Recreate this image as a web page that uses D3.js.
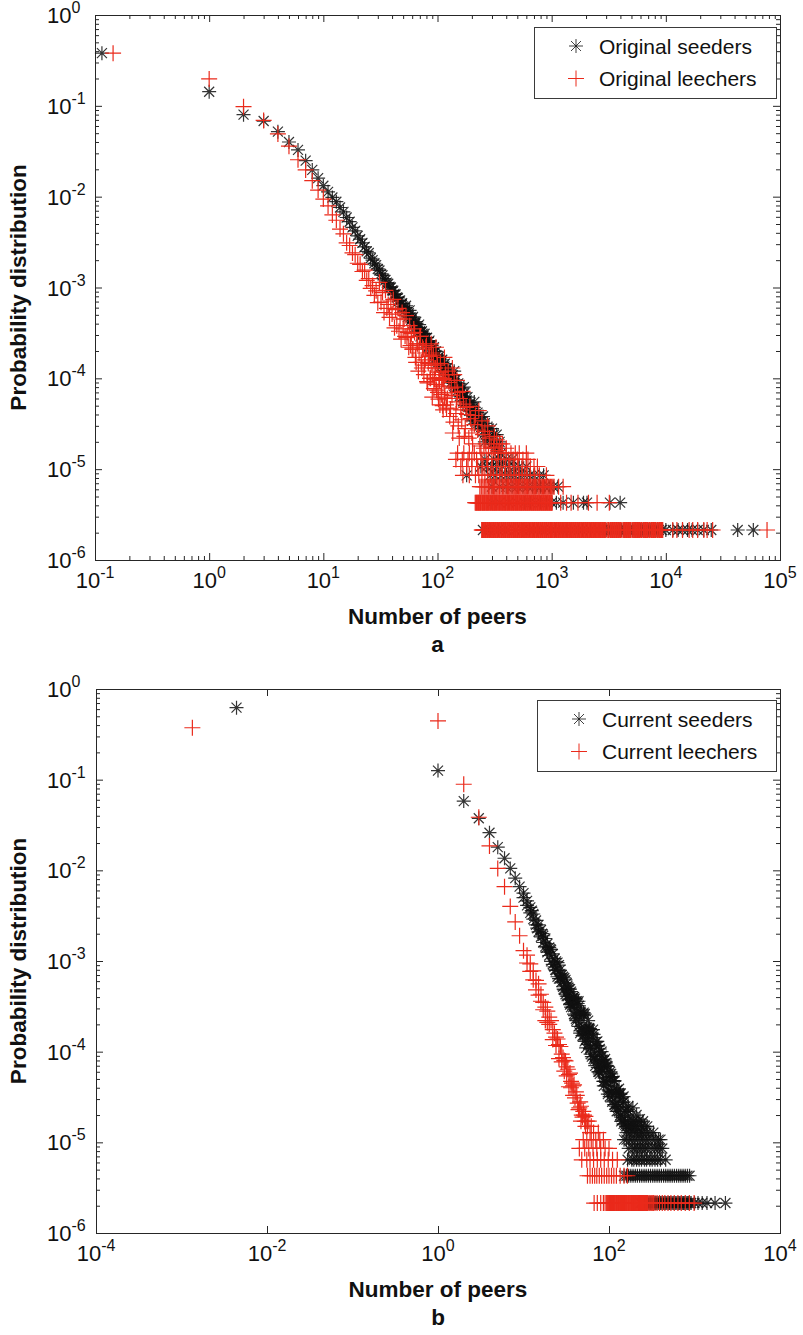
<!DOCTYPE html>
<html>
<head>
<meta charset="utf-8">
<script src="https://cdn.jsdelivr.net/npm/d3@7"></script>
<style>
  body { margin: 0; background: #fff; }
  text { font-family: "Liberation Sans", Arial, Helvetica, sans-serif; fill: #111; }
</style>
</head>
<body>
<svg id="chart" width="803" height="1335"></svg>
<script>
// ---------------------------------------------------------------
// Peer-count distributions, log-log.  Each point is [peers, probability].
// ---------------------------------------------------------------

// Probability of a value seen once, twice, ... (one torrent out of ~467k)
const floorP = [2.14e-6, 4.28e-6, 6.42e-6, 8.56e-6, 1.07e-5, 1.28e-5, 1.5e-5, 1.71e-5];

// tick exponents
const yTickExp = [0, -1, -2, -3, -4, -5, -6];
const xTickExpA = [-1, 0, 1, 2, 3, 4, 5];
const xTickExpB = [-4, -2, 0, 2, 4];

// ---- panel a : original seeders ----
const origSeeders = [
  [0.115,0.38],[1,0.143],[2,0.080],[3,0.068],[4,0.052],[5,0.040],[6,0.0327],[7,0.0249],[8,0.0197],[9,0.0160],
  [10,0.0132],[11,0.0113],[12,0.0098],[13,0.0088],[14,0.0076],[15,0.0068],[16,0.0059],[17,0.0053],[18,0.0046],[19,0.0042],
  [20,0.0037],[21,0.0034],[22,0.0031],[23,0.0028],[24,0.0025],[25,0.0024],[26,0.0021],[27,0.0020],[28,0.00185],[29,0.00176],
  [30,0.00160],[31,0.00154],[32,0.00141],[33,0.00136],[34,0.00125],[35,0.00121],[36,0.00113],[37,0.00110],[38,0.00102],[39,0.00100],
  [40,0.00093],[41,0.00092],[42,0.00085],[43,0.00084],[44,0.00078],[45,0.00077],[46,0.00071],[47,0.00072],[48,0.00066],[49,0.00067],[50,0.00062],
  [52,6.0e-4],[54,5.4e-4],[56,5.2e-4],[58,4.7e-4],[60,4.6e-4],[62,4.1e-4],[64,4.0e-4],[66,3.6e-4],[68,3.6e-4],[70,3.3e-4],
  [72,3.2e-4],[74,3.1e-4],[76,2.8e-4],[78,2.8e-4],[80,2.5e-4],[82,2.5e-4],[84,2.3e-4],[86,2.3e-4],[88,2.1e-4],[90,2.1e-4],
  [92,1.9e-4],[94,1.95e-4],[96,1.8e-4],[98,1.8e-4],[100,1.65e-4],
  [51,5.5e-4],[53,6.3e-4],[55,4.75e-4],[57,5.6e-4],[59,4.4e-4],[61,4.75e-4],[63,3.6e-4],[65,4.2e-4],[67,3.3e-4],[69,3.9e-4],
  [71,2.9e-4],[73,3.3e-4],[75,2.7e-4],[77,3.1e-4],[79,2.35e-4],[81,2.8e-4],[83,2.2e-4],[85,2.6e-4],[87,1.93e-4],[89,2.3e-4],
  [91,1.88e-4],[93,2.2e-4],[95,1.65e-4],[97,1.98e-4],[99,1.57e-4],
  [103,1.6e-4],[106,1.45e-4],[109,1.5e-4],[112,1.3e-4],[115,1.35e-4],[118,1.2e-4],[121,1.15e-4],[124,1.1e-4],[127,1.05e-4],[130,1.0e-4],
  [134,9.9e-5],[138,8.8e-5],[142,8.9e-5],[146,7.9e-5],[150,8.0e-5],[155,7.0e-5],[160,7.1e-5],[165,6.2e-5],[170,6.3e-5],[175,5.5e-5],[180,5.7e-5],
  [186,4.9e-5],[192,5.1e-5],[198,4.3e-5],[205,4.5e-5],[212,3.8e-5],[220,3.9e-5],[228,3.2e-5],[236,3.4e-5],[245,2.8e-5],[255,3.0e-5],
  [265,2.4e-5],[275,2.6e-5],[290,2.1e-5],[305,2.1e-5],[320,1.7e-5],[340,1.7e-5],[360,1.5e-5],
  [101,1.5e-4],[104,1.75e-4],[107,1.35e-4],[110,1.6e-4],[113,1.22e-4],[116,1.45e-4],[119,1.1e-4],[122,1.3e-4],[125,9.8e-5],[128,1.2e-4],
  [132,9.0e-5],[136,1.08e-4],[140,8.2e-5],[144,9.6e-5],[148,7.2e-5],[152,8.8e-5],[157,6.4e-5],[162,7.8e-5],[167,5.6e-5],[172,6.9e-5],
  [178,5.0e-5],[183,6.2e-5],[189,4.4e-5],[195,5.4e-5],[202,3.9e-5],[208,4.8e-5],[216,3.4e-5],[224,4.2e-5],[232,3.0e-5],[240,3.7e-5],
  [250,2.6e-5],[260,3.2e-5],[270,2.3e-5],[282,2.8e-5],[297,1.9e-5],[312,2.4e-5],[330,1.8e-5],[350,2.0e-5],
  [140,1.2e-4],[170,8.0e-5],[200,3.4e-5],[210,5.5e-5],[250,3.8e-5],[260,2.0e-5],[300,2.8e-5],[330,2.4e-5]
];
// peers values observed 1, 2, 3 ... times
const origSeedersFloor = [
  [250,276,290,310,340,380,410,480,560,640,700,760,830,900,1000,1080,1150,1250,1360,1450,1550,1700,1850,2050,2200,2400,2600,2800,
   3000,3250,3400,3550,3700,3900,4100,4300,4500,4700,4900,5100,5400,5700,6000,6300,6600,7000,7400,7800,8200,8700,9200,10000,
   11500,12800,14000,15500,17000,19000,21500,25000,42600,58400],
  [300,350,420,500,580,650,720,800,900,1000,1100,1260,1550,1900,2040,3240,3980],
  [300,350,400,450,500,560,620,680,740,800,870,950,1030,1135],
  [180,290,320,360,400,440,480,530,580,640,700,780,850],
  [240,270,300,330,370,420,470,520,600],
  [260,310,350,400,450]
];

// ---- panel a : original leechers ----
const origLeechers = [
  [0.144,0.38],[1,0.198],[2,0.098],[3,0.069],[4,0.049],[5,0.036],[6,0.0255],[7,0.0197],[8,0.0150],[9,0.0118],
  [10,0.0094],[11,0.0079],[12,0.0063],[13,0.0055],[14,0.0044],[15,0.0039],[16,0.0031],[17,0.0029],[18,0.0024],[19,0.0023],
  [20,0.00185],[21,0.0018],[22,0.0015],[23,0.00155],[24,0.0012],[25,0.00125],[26,0.00098],[27,0.00105],[28,0.00082],[29,0.00092],[30,0.00068],
  [31,1.14e-3],[32,6.9e-4],[33,8.8e-4],[34,5.3e-4],[35,9.3e-4],[36,5.9e-4],[37,6.5e-4],[38,4.7e-4],[39,7.1e-4],[40,5.1e-4],
  [41,7.4e-4],[42,3.6e-4],[43,5.7e-4],[44,3.8e-4],[45,5.9e-4],[46,3.3e-4],[47,4.5e-4],[48,2.7e-4],[49,5.3e-4],[50,3.5e-4],
  [51,4.5e-4],[52,2.9e-4],[53,4.9e-4],[54,2.8e-4],[55,3.2e-4],[56,2.2e-4],[57,3.8e-4],[58,2.3e-4],[59,3.1e-4],[60,2.1e-4],
  [62,3.5e-4],[64,1.7e-4],[66,2.4e-4],[68,1.2e-4],[70,2.9e-4],[72,1.5e-4],[74,2.2e-4],[76,1.1e-4],[78,1.6e-4],[80,2.3e-4],
  [82,8.9e-5],[84,1.8e-4],[86,1.0e-4],[88,1.4e-4],[90,6.2e-5],[92,1.8e-4],[94,9.8e-5],[96,1.3e-4],[98,7.4e-5],[100,1.4e-4],
  [102,5.9e-5],[104,9.5e-5],[106,1.45e-4],[108,6.6e-5],[110,9.8e-5],[112,4.5e-5],[114,1.0e-4],[116,6.9e-5],[118,1.1e-4],[120,4.7e-5],
  [61,2.1e-4],[63,3.2e-4],[65,1.5e-4],[67,2.4e-4],[69,1.9e-4],[71,2.9e-4],[73,1.3e-4],[75,2.1e-4],[77,1.4e-4],[79,2.2e-4],
  [81,9.2e-5],[83,1.46e-4],[85,1.74e-4],[87,1.0e-4],[89,1.9e-4],[91,1.1e-4],[93,7.7e-5],[95,1.3e-4],[97,8.6e-5],[99,1.46e-4],
  [101,7.0e-5],[103,1.02e-4],[105,5.1e-5],[107,1.17e-4],[109,8.2e-5],[111,5.0e-5],[113,9.7e-5],[115,6.2e-5],[117,1.1e-4],[119,5.1e-5],
  [124,1.2e-4],[128,3.8e-5],[132,7.8e-5],[136,2.5e-5],[140,1.1e-4],[145,4.1e-5],[150,7.0e-5],[155,2.2e-5],[160,4.5e-5],[166,7.2e-5],
  [172,2.3e-5],[178,4.8e-5],[192,4.9e-5],[200,2.5e-5],[210,3.1e-5],[230,4.4e-5],[255,1.7e-5],[285,2.2e-5],
  [122,6.0e-5],[126,9.0e-5],[130,4.6e-5],[134,6.5e-5],[138,3.3e-5],[142,8.0e-5],[147,5.5e-5],[152,3.0e-5],[157,6.0e-5],[163,3.5e-5],
  [169,5.2e-5],[175,2.8e-5],[181,4.0e-5],[188,2.2e-5],[195,3.6e-5],[203,1.9e-5],[215,3.9e-5],[225,2.7e-5],[235,1.8e-5],[250,2.4e-5],
  [265,1.9e-5],[275,3.0e-5],[295,1.75e-5],[315,2.3e-5],[340,1.6e-5],[370,1.9e-5],[400,1.7e-5],
  [148,9.5e-5],[97,2.2e-4],[245,3.4e-5],[260,2.6e-5],[310,1.7e-5],[330,2.1e-5],[350,1.9e-5],[135,1.3e-4],[115,1.7e-4],[88,2.4e-4]
];
const origLeechersFloor = [
  [244,250,257,264,271,278,286,294,302,310,318,327,336,345,354,364,374,384,394,405,416,427,439,451,463,475,488,501,515,529,
   543,558,573,588,604,621,637,655,672,690,709,728,748,768,789,810,832,855,878,901,926,951,976,998,1030,1058,1086,1115,1145,1176,
   1208,1241,1274,1309,1344,1380,1417,1456,1495,1535,1577,1619,1663,1708,1754,1801,1850,1900,1951,2004,2058,2113,2170,2229,2289,
   2351,2414,2479,2546,2615,2685,2758,2832,2909,2987,3068,3151,3236,3323,3413,3505,3599,3697,3796,3899,4004,4112,4223,4337,4454,
   4574,4698,4824,4955,5088,5226,5367,5512,5661,5813,5970,6131,6297,6467,6641,6820,7004,7194,7388,7587,7792,8002,8219,8441,8668,
   8903,9143,9390,11500,12500,14000,16000,17200,19000,21500,23000,25700,77000,
   247,253,260,267,274,282,290,298,306,314,322,331,340,349,359,369,379,389,399,410,421,433,445,457,469,481,494,508,522,536,
   550,565,580,596,612,629,646,663,681,699,718,738,758,778,799,821,843,866,889,913,938,963,987,1014,1044,1072,1100,1130,1160,1192,
   1224,1257,1291,1326,1362,1398,1436,1475,1515,1556,1598,1641,1685,1731,1777,1825,1875,1925,1977,2031,2085,2141,2199,2259,2320,
   2382,2446,2512,2580,2650,2721,2795,2870,2948,3279,3368,3459,3552,3648,3746,3847,3951,4280,4395,4514,4636,4761,4889,
   5296,5439,5586,5737,5891,6382,6554,6730,6912,7487,7689,7897,8110,8785,9023,9266],
  [214,220,226,232,238,245,251,258,265,272,279,287,295,303,311,319,328,337,346,355,365,375,385,395,406,417,428,440,452,464,
   477,490,503,517,531,545,560,575,591,607,623,640,658,676,694,713,732,752,772,793,815,837,860,883,907,932,957,983,1010,
   1200,1350,1480,1700,2100,2500,3200,
   217,223,229,235,241,248,254,261,268,275,283,291,299,307,315,323,332,341,350,360,370,380,390,400,411,422,434,446,458,470,
   483,496,510,524,538,552,567,583,599,615,631,649,667,685,703,722,742,762,782,804,826,848,871,895,919,944,970,996],
  [235,250,265,280,295,310,325,340,360,380,400,420,440,460,480,500,525,550,575,600,630,660,690,720,760,790,830,870,910,950,
   1000,1050,1150,1260,
   242,257,272,287,302,317,332,350,370,390,410,430,450,470,490,512,537,562,587,615,645,675,705,740,775,810,850,890,930,975,1025],
  [167,190,215,245,275,310,350,390,440,490,550,610,710,230,260,290,330,370,415,465,520,580,650,780,900],
  [160,200,250,300,360,430,510,600,700,180,225,275,330,395,470,550,650,750],
  [145,185,220,270,340,420,500,560,165,200,245,300,380,460,620],
  [150,190,240,320,400,480,170,210,280,360,440,520,600]
];

// ---- panel b : current seeders ----
const currSeeders = [
  [0.0044,0.622],[1,0.126],[2,0.058],[3,0.0375],[4,0.026],[5,0.018],[6,0.0136],[7,0.0105],[8,0.0082],[9,6.6e-3],
  [10,5.6e-3],[11,4.1e-3],[12,3.9e-3],[13,2.9e-3],[14,2.8e-3],[15,2.1e-3],[16,2.2e-3],[17,1.6e-3],[18,1.77e-3],[19,1.25e-3],[20,1.41e-3],
  [10,5.0e-3],[11,4.6e-3],[12,3.4e-3],[13,3.3e-3],[14,2.5e-3],[15,2.5e-3],[16,1.85e-3],[17,1.9e-3],[18,1.45e-3],[19,1.55e-3],[20,1.15e-3],
  [21,1.33e-3],[22,9.2e-4],[23,1.06e-3],[24,7.9e-4],[25,9.6e-4],[26,6.4e-4],[27,7.2e-4],[28,5.9e-4],[29,6.7e-4],[30,4.8e-4],
  [31,6.2e-4],[32,4.1e-4],[33,5.0e-4],[34,3.8e-4],[35,4.9e-4],[36,3.1e-4],[37,3.9e-4],[38,3.1e-4],[39,4.0e-4],[40,2.5e-4],
  [21,9.9e-4],[22,1.2e-3],[23,8.6e-4],[24,9.9e-4],[25,6.7e-4],[26,9.0e-4],[27,6.4e-4],[28,7.0e-4],[29,5.2e-4],[30,6.5e-4],
  [31,4.3e-4],[32,5.7e-4],[33,4.1e-4],[34,4.9e-4],[35,3.3e-4],[36,4.6e-4],[37,3.3e-4],[38,3.8e-4],[39,2.6e-4],[40,3.85e-4],
  [42,3.6e-4],[44,1.9e-4],[46,2.7e-4],[48,1.8e-4],[50,2.6e-4],[52,1.3e-4],[54,1.76e-4],[56,1.4e-4],[58,1.8e-4],[60,1.08e-4],
  [63,1.6e-4],[66,8.3e-5],[69,1.17e-4],[72,7.9e-5],[75,1.16e-4],[78,5.7e-5],[81,7.7e-5],[84,6.1e-5],[87,7.9e-5],[90,4.7e-5],
  [94,7.0e-5],[98,3.8e-5],[102,5.3e-5],[106,3.6e-5],[110,5.3e-5],[115,2.6e-5],[120,3.5e-5],[125,2.7e-5],[130,3.5e-5],[136,2.0e-5],
  [142,3.1e-5],[148,1.6e-5],[155,2.2e-5],[162,1.5e-5],[170,2.2e-5],[180,1.43e-5],
  [41,2.3e-4],[43,3.4e-4],[45,2.1e-4],[47,2.7e-4],[49,1.5e-4],[51,2.5e-4],[53,1.56e-4],[55,1.85e-4],[57,1.2e-4],[59,1.8e-4],
  [61,9.4e-5],[65,1.43e-4],[68,8.8e-5],[71,1.28e-4],[74,6.7e-5],[77,9.7e-5],[80,6.6e-5],[83,9.0e-5],[86,4.7e-5],[89,7.3e-5],
  [92,4.6e-5],[96,6.9e-5],[100,3.7e-5],[104,5.2e-5],[108,3.6e-5],[112,4.8e-5],[118,2.6e-5],[123,3.7e-5],[128,2.4e-5],[133,3.4e-5],
  [139,1.9e-5],[145,2.75e-5],[152,1.8e-5],
  [42,2.8e-4],[44,3.6e-4],[46,1.6e-4],[48,2.6e-4],[50,1.67e-4],[52,2.6e-4],[54,1.1e-4],[56,1.7e-4],[58,1.38e-4],[60,1.75e-4],
  [63,8.8e-5],[66,1.55e-4],[69,8.2e-5],[72,1.16e-4],[75,6.0e-5],[78,1.07e-4],[81,6.6e-5],[84,8.2e-5],[87,4.7e-5],[90,8.3e-5],
  [94,4.6e-5],[98,6.3e-5],[102,3.2e-5],[106,5.7e-5],[110,3.2e-5],[115,4.7e-5],[120,2.5e-5],[125,3.8e-5],[130,2.2e-5],[136,3.4e-5],
  [142,1.76e-5],[148,2.8e-5],[155,1.56e-5],[162,2.3e-5],[170,1.44e-5],
  [12.5,3.6e-3],[14.5,2.3e-3],[16.5,2.0e-3],[18.5,1.4e-3],[20.5,1.35e-3],[23.5,8.0e-4],[26.5,7.9e-4],[29.5,4.9e-4],[32.5,5.3e-4],
  [35.5,3.4e-4],[38.5,4.0e-4],[41.5,2.2e-4],[44.5,3.2e-4],[47.5,1.7e-4],[50.5,2.7e-4],[53.5,1.35e-4],[57,2.2e-4],[61,1.1e-4],
  [65,1.75e-4],[69,7.0e-5],[73,1.3e-4],[77,6.0e-5],[82,1.0e-4],[87,4.2e-5],[92,7.5e-5],[97,3.4e-5],[103,6.0e-5],[109,2.8e-5],
  [116,4.8e-5],[123,2.2e-5],[131,3.9e-5],[139,1.7e-5],[148,3.2e-5],[158,1.5e-5],[168,2.5e-5],[178,1.9e-5],[195,1.7e-5],
  [190,2.4e-5],[210,2.0e-5],[230,1.8e-5],[205,1.5e-5],[240,1.5e-5]
];
const currSeedersFloor = [
  [232,240,248,257,266,275,285,295,305,316,327,338,350,362,375,388,401,415,430,445,460,476,493,510,528,546,565,585,605,626,
   648,671,694,718,743,769,796,824,852,882,913,1000,1100,1230,1400,1740,2300],
  [150,160,170,180,191,203,215,228,242,257,272,289,306,325,344,365,387,410,435,461,489,518,549,582,617,654,693,735,779,826,875],
  [165,185,210,240,275,320,370,460,195,225,260,300,345,400],
  [170,190,215,245,280,340,366,420,200,230,265,310,390],
  [150,175,200,235,270,320,380,400,160,185,215,250,290,350],
  [160,195,225,250,300,175,210,240,275,330],
  [185,215,260,170,200,240,280],
  [165,190,220,250]
];

// ---- panel b : current leechers ----
const currLeechers = [
  [0.00134,0.374],[1,0.444],[2,0.089],[3,0.0385],[4,0.0186],[5,0.0105],[6,0.0066],[7,0.0040],[8,0.0027],[9,0.0019],[10,0.0013],
  [11,1.16e-3],[12,7.7e-4],[13,7.8e-4],[14,4.8e-4],[15,5.6e-4],[16,3.6e-4],[17,3.5e-4],[18,2.2e-4],[19,2.8e-4],[20,2.0e-4],
  [21,2.2e-4],[22,1.36e-4],[23,1.6e-4],[24,1.17e-4],[25,1.38e-4],[26,8.4e-5],[27,1.14e-4],[28,7.7e-5],[29,8.6e-5],[30,6.1e-5],
  [31,7.9e-5],[32,5.4e-5],[33,6.4e-5],[34,4.1e-5],[35,5.8e-5],[36,4.0e-5],[37,4.5e-5],[38,3.3e-5],[39,4.3e-5],[40,3.1e-5],
  [42,3.3e-5],[44,2.3e-5],[46,2.8e-5],[48,2.0e-5],[50,2.2e-5],[52,1.7e-5],
  [11,9.5e-4],[12,9.3e-4],[13,6.2e-4],[14,6.1e-4],[15,4.2e-4],[16,4.3e-4],[17,2.9e-4],[18,3.1e-4],[19,2.1e-4],[20,2.4e-4],
  [22,1.75e-4],[24,1.45e-4],[26,1.2e-4],[28,9.4e-5],[30,8.0e-5],[32,6.8e-5],[34,5.6e-5],[36,4.7e-5],[38,4.2e-5],[41,3.6e-5],
  [43,2.7e-5],[45,2.4e-5],[47,2.5e-5],[49,1.9e-5],[51,2.0e-5],[53,1.93e-5],[55,1.71e-5]
];
const currLeechersFloor = [
  [67,73,80,86,90,94,97,100,103,106,109,112,115,118,122,125,129,132,136,140,144,148,152,157,161,166,170,175,180,186,
   191,197,202,208,214,221,227,234,240,247,254,262,269,277,285,294,302,311,320,330,345,365,390,420,450,490,530,580,640,700,780,870,990,
   95,98,101,104,107,110,113,116,120,123,127,130,134,138,142,146,150,155,159,163,168,172,177,183,188,194,199,205,211,217,224,
   230,237,243,250,258,265,273,281],
  [56,60,64,68,72,77,82,88,94,100,107,114,122,135,150,164],
  [48,55,60,66,73,80,88,98,110,125],
  [45,52,58,65,72,80,90,100],
  [50,55,62,70,78,86],
  [60,66,75],
  [53,56,62],
  [47,58]
];

// ---------------------------------------------------------------
// drawing
// ---------------------------------------------------------------
const svg = d3.select("#chart");
const AXIS = "#262626";
const RED = "#ea2a1b";
const STAR = "#111";
const plusPath = "M-8,0H8M0,-8V8";
const starPath = "M-7,0H7M0,-7V7M-5,-5L5,5M-5,5L5,-5";

function withFloors(main, floors) {
  const pts = main.slice();
  floors.forEach((ks, i) => ks.forEach(k => pts.push([k, floorP[i]])));
  return pts;
}

function powLabel(sel, e, base, sup) {
  sel.append("tspan").attr("font-size", base).text("10");
  sel.append("tspan").attr("dy", -10).attr("font-size", sup).text(e < 0 ? "-" + (-e) : String(e));
}

function drawPanel(cfg) {
  const { box, xDomain, xMajorExp, xMinor, seeders, leechers, labels, legend, letter } = cfg;
  const x = d3.scaleLog().domain(xDomain).range([box.l, box.r]);
  const y = d3.scaleLog().domain([1e-6, 1]).range([box.b, box.t]);
  const g = svg.append("g");

  // axes with inward ticks on all four sides
  const xMaj = xMajorExp.map(e => Math.pow(10, e));
  const yMaj = yTickExp.map(e => Math.pow(10, e));
  const isPow = v => Math.abs(Math.log10(v) - Math.round(Math.log10(v))) < 1e-9;
  const xMin = xMinor ? x.ticks().filter(v => !isPow(v)) : [];
  const yMin = y.ticks().filter(v => !isPow(v));

  const ax = (gen, vals, size, tr) => {
    const a = g.append("g").attr("transform", tr)
      .call(gen.tickValues(vals).tickSize(size).tickSizeOuter(0).tickFormat(""));
    a.select(".domain").remove();
    a.selectAll("line").attr("stroke", AXIS);
  };
  ax(d3.axisBottom(x), xMaj, -7, `translate(0,${box.b})`);
  ax(d3.axisBottom(x), xMin, -4, `translate(0,${box.b})`);
  ax(d3.axisTop(x), xMaj, -7, `translate(0,${box.t})`);
  ax(d3.axisTop(x), xMin, -4, `translate(0,${box.t})`);
  ax(d3.axisLeft(y), yMaj, -7, `translate(${box.l},0)`);
  ax(d3.axisLeft(y), yMin, -4, `translate(${box.l},0)`);
  ax(d3.axisRight(y), yMaj, -7, `translate(${box.r},0)`);
  ax(d3.axisRight(y), yMin, -4, `translate(${box.r},0)`);

  g.append("rect")
    .attr("x", box.l + 0.5).attr("y", box.t + 0.5)
    .attr("width", box.r - box.l).attr("height", box.b - box.t)
    .attr("fill", "none").attr("stroke", AXIS).attr("stroke-width", 1);

  // tick labels as 10^n
  const tl = g.append("g");
  xMajorExp.forEach(e => {
    const t = tl.append("text").attr("x", x(Math.pow(10, e))).attr("y", box.b + 28)
      .attr("text-anchor", "middle");
    powLabel(t, e, 22, 16);
  });
  yTickExp.forEach(e => {
    const t = tl.append("text").attr("x", 47).attr("y", y(Math.pow(10, e)) + 8)
      .attr("text-anchor", "start");
    powLabel(t, e, 22, 16);
  });

  // axis titles and panel letter
  const cx = (box.l + box.r) / 2;
  g.append("text").attr("x", cx).attr("y", box.b + 64)
    .attr("text-anchor", "middle").attr("font-size", 22.5).attr("font-weight", "bold")
    .text("Number of peers");
  g.append("text").attr("x", cx).attr("y", box.b + 92)
    .attr("text-anchor", "middle").attr("font-size", 22.5).attr("font-weight", "bold")
    .text(letter);
  g.append("text")
    .attr("transform", `translate(26,${(box.t + box.b) / 2}) rotate(-90)`)
    .attr("text-anchor", "middle").attr("font-size", 22.5).attr("font-weight", "bold")
    .text("Probability distribution");

  // markers: seeders (*) first, leechers (+) drawn over them
  const marks = g.append("g");
  marks.append("g").selectAll("path").data(seeders).join("path")
    .attr("d", starPath)
    .attr("transform", d => `translate(${x(d[0])},${y(d[1])})`)
    .attr("fill", "none").attr("stroke", STAR).attr("stroke-width", 1.2).attr("stroke-opacity", 0.85);
  marks.append("g").selectAll("path").data(leechers).join("path")
    .attr("d", plusPath)
    .attr("transform", d => `translate(${x(d[0])},${y(d[1])})`)
    .attr("fill", "none").attr("stroke", RED).attr("stroke-width", 1.2);

  // legend
  const lg = g.append("g");
  lg.append("rect").attr("x", legend.x + 0.5).attr("y", legend.y + 0.5)
    .attr("width", legend.w).attr("height", legend.h)
    .attr("fill", "#fff").attr("stroke", "#3a3a3a").attr("stroke-width", 1);
  const rows = [
    { label: labels[0], path: starPath, color: STAR, op: 0.8 },
    { label: labels[1], path: plusPath, color: RED, op: 1 }
  ];
  rows.forEach((r, i) => {
    const ry = legend.y + 19 + i * 32.5;
    lg.append("path").attr("d", r.path)
      .attr("transform", `translate(${legend.mx},${ry})`)
      .attr("fill", "none").attr("stroke", r.color).attr("stroke-opacity", r.op);
    lg.append("text").attr("x", legend.x + 65).attr("y", ry + 7.5)
      .attr("font-size", 21).text(r.label);
  });
}

drawPanel({
  box: { l: 95, r: 780, t: 15, b: 560 },
  xDomain: [0.1, 1e5],
  xMajorExp: xTickExpA,
  xMinor: true,
  seeders: withFloors(origSeeders, origSeedersFloor),
  leechers: withFloors(origLeechers, origLeechersFloor),
  labels: ["Original seeders", "Original leechers"],
  legend: { x: 534, y: 27, w: 242, h: 71, mx: 576 },
  letter: "a"
});

drawPanel({
  box: { l: 96, r: 780, t: 689, b: 1233 },
  xDomain: [1e-4, 1e4],
  xMajorExp: xTickExpB,
  xMinor: false,
  seeders: withFloors(currSeeders, currSeedersFloor),
  leechers: withFloors(currLeechers, currLeechersFloor),
  labels: ["Current seeders", "Current leechers"],
  legend: { x: 537, y: 700, w: 239, h: 71, mx: 579 },
  letter: "b"
});
</script>
</body>
</html>
